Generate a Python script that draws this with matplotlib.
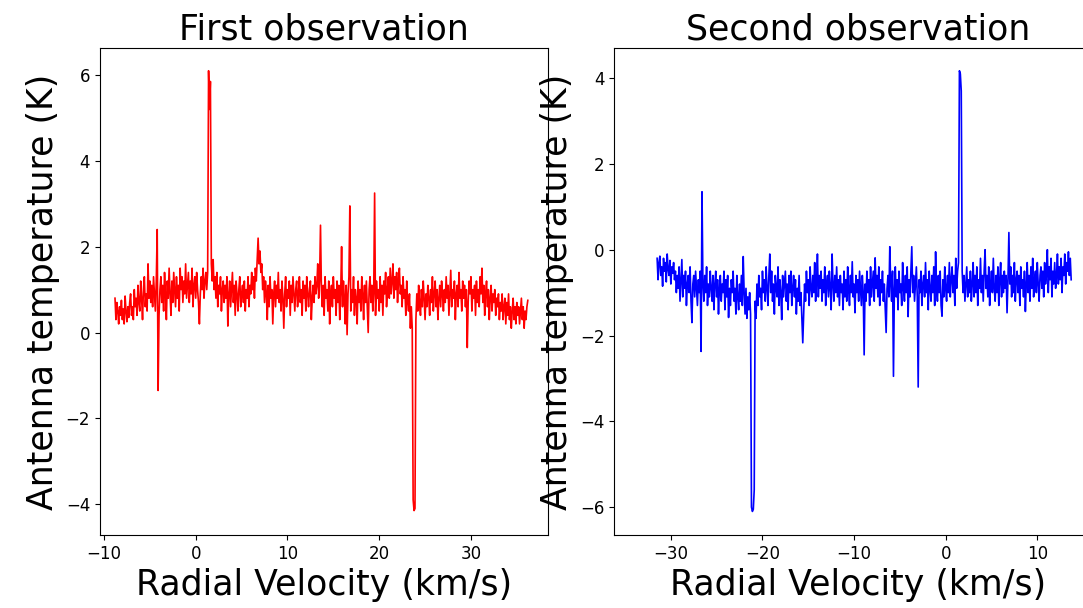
import numpy as np
import matplotlib.pyplot as plt

plt.rcParams['font.family'] = ['DejaVu Sans']

# First observation: velocity range of the channels (km/s) and antenna temperature (K)
v1_start, v1_end = -8.8, 36.2
t1 = [0.8, 0.3, 0.7, 0.5, 0.2, 0.6, 0.4, 0.75, 0.3, 0.55, 0.2, 0.85, 0.5, 0.25, 0.6, 0.35, 0.7, 0.9, 0.4, 0.6,
      0.3, 1.0, 0.6, 0.8, 0.4, 1.1, 0.7, 0.5, 1.2, 0.8, 0.3, 1.0, 1.3, 0.6, 0.9, 0.5, 1.6, 0.8, 1.2, 0.7,
      1.1, 0.6, 1.3, 0.9, 0.5, 1.2, 2.4, -1.35, 0.4, 1.0, 1.3, 0.7, 1.1, 0.5, 1.4, 0.9, 0.3, 1.2, 0.8, 1.5,
      0.9, 0.4, 1.2, 0.7, 1.4, 1.0, 0.6, 1.3, 0.8, 1.1, 0.5, 1.5, 1.0, 1.3, 0.7, 1.2, 0.9, 1.6, 0.8, 1.1,
      1.4, 0.7, 1.2, 0.9, 1.5, 0.6, 1.1, 1.3, 0.8, 1.4, 1.0, 0.7, 0.2, 0.9, 1.3, 1.0, 1.5, 0.8, 1.2, 1.4,
      1.0, 1.4, 6.1, 5.2, 5.85, 1.6, 1.2, 1.7, 1.0, 1.3, 0.8, 1.4, 0.6, 1.1, 0.9, 1.3, 0.5, 1.0, 1.2, 0.7,
      1.1, 0.8, 1.3, 0.15, 0.9, 1.2, 0.6, 1.0, 1.4, 0.7, 1.1, 0.4, 1.2, 0.9, 0.5, 1.0, 1.3, 0.6, 0.9, 1.1,
      0.7, 1.2, 0.5, 1.0, 0.8, 1.3, 0.6, 1.1, 0.9, 1.4, 1.0, 1.3, 0.8, 1.5, 1.2, 1.7, 2.2, 1.6, 1.9, 1.4,
      1.6, 1.0, 1.3, 0.7, 1.2, 0.9, 0.3, 1.1, 0.6, 1.3, 0.8, 1.0, 0.2, 0.9, 1.2, 0.6, 1.1, 0.8, 1.4, 0.7,
      1.0, 0.5, 1.2, 0.8, 0.1, 0.9, 1.3, 0.6, 1.0, 0.8, 1.2, 0.4, 1.1, 0.7, 1.3, 0.9, 0.5, 1.0, 1.2, 0.6,
      0.9, 1.3, 0.7, 1.0, 0.4, 1.2, 0.8, 1.1, 0.5, 1.3, 0.9, 0.6, 1.0, 1.2, 0.3, 0.8, 1.1, 0.7, 1.3, 0.9,
      1.1, 1.6, 0.8, 1.2, 2.5, 1.0, 0.6, 1.1, 0.4, 1.3, 0.8, 1.0, 0.5, 1.2, 0.2, 0.9, 1.1, 0.6, 1.3, 0.8,
      1.0, 0.4, 1.2, 0.7, 1.1, 0.3, 0.9, 2.0, 0.6, 1.2, 0.8, 0.2, 1.1, -0.05, 0.9, 1.3, 2.95, 0.5, 1.0, 0.7,
      1.3, 0.4, 1.0, 0.8, 0.2, 1.2, 0.7, 1.0, 0.5, 1.3, 0.9, 0.3, 1.1, 0.7, 1.2, 0.6, 0.0, 1.0, 1.3, 0.7,
      1.1, 0.5, 0.9, 3.25, 0.4, 1.2, 0.8, 1.0, 0.5, 1.3, 0.7, 1.1, 0.4, 1.2, 0.9, 1.4, 0.6, 1.0, 1.3, 0.8,
      1.5, 0.9, 1.2, 1.6, 0.8, 1.3, 1.0, 1.4, 0.7, 1.2, 1.5, 0.9, 1.1, 0.6, 1.3, 0.8, 1.0, 0.4, 1.2, 0.7,
      0.5, 0.9, 0.1, 0.6, 0.1, -3.9, -4.15, -4.1, 0.3, 0.9, 0.5, 1.1, 0.7, 0.4, 1.0, 0.6, 1.2, 0.8, 0.3, 0.9,
      0.6, 1.1, 0.8, 0.4, 1.0, 0.7, 1.3, 0.5, 0.9, 1.2, 0.6, 1.0, 0.3, 0.8, 1.1, 0.6, 1.2, 0.9, 0.5, 1.0,
      0.7, 1.3, 0.8, 1.1, 0.4, 0.9, 1.45, 0.6, 1.0, 0.8, 1.2, 0.3, 0.9, 1.1, 0.6, 1.4, 0.8, 1.0, 0.5, 1.2,
      0.8, 1.1, 0.6, 1.0, -0.35, 0.7, 1.2, 0.9, 1.3, 0.5, 1.0, 0.8, 1.1, 0.4, 1.2, 0.7, 1.0, 0.6, 1.3, 0.9,
      1.5, 0.7, 1.1, 0.4, 0.9, 1.2, 0.6, 1.0, 0.3, 0.8, 1.1, 0.5, 0.9, 0.7, 1.0, 0.4, 0.8, 0.6, 0.9, 0.3,
      0.7, 0.5, 0.9, 0.3, 0.6, 0.8, 0.2, 0.7, 0.4, 0.9, 0.3, 0.6, 0.1, 0.5, 0.8, 0.3, 0.6, 0.2, 0.7, 0.4,
      0.6, 0.2, 0.5, 0.8, 0.3, 0.6, 0.1, 0.5, 0.3, 0.6, 0.75]

# Second observation
v2_start, v2_end = -31.5, 13.7
t2 = [-0.2, -0.7, -0.3, -0.15, -0.6, -0.4, -0.85, -0.2, -0.5, -0.3, -0.75, -0.1, -0.45, -0.6, -0.25, -0.8, -0.4, -0.55, -0.3, -0.7,
      -0.5, -1.0, -0.6, -0.9, -0.4, -1.2, -0.7, -0.23, -1.1, -0.6, -0.9, -0.5, -1.3, -0.8, -0.6, -1.0, -0.4, -1.2, -1.7, -0.8,
      -0.6, -1.1, -0.5, -0.9, -1.3, -0.7, -1.0, -0.5, -2.37, 1.35, -0.8, -1.2, -0.6, -1.0, -0.4, -1.3, -0.8, -1.1, -0.5, -0.9,
      -1.2, -0.6, -1.4, -0.8, -0.5, -1.1, -0.7, -1.5, -0.9, -0.6, -1.2, -0.8, -1.0, -0.5, -1.4, -0.7, -1.1, -0.6, -1.58, -0.9,
      -1.3, -0.7, -1.0, -0.5, -1.2, -0.9, -1.5, -0.6, -1.1, -1.4, -0.8, -1.2, -0.6, -1.3, -0.16, -1.0, -1.5, -0.9, -1.6, -1.1,
      -1.4, -1.0, -1.5, -6.0, -6.1, -6.05, -5.6, -1.2, -1.6, -0.8, -1.3, -0.6, -1.1, -0.9, -1.4, -0.5, -1.0, -0.7, -1.2, -0.4,
      -0.9, -1.3, -0.6, -0.1, -1.0, -0.5, -1.2, -0.8, -1.5, -0.6, -0.9, -1.1, -0.4, -1.3, -0.7, -1.0, -1.63, -0.6, -1.1, -0.8,
      -0.5, -1.2, -0.8, -1.4, -0.6, -1.0, -0.5, -1.3, -0.9, -0.6, -1.1, -0.7, -1.5, -0.9, -1.2, -0.6, -1.3, -1.0, -1.6, -2.17,
      -1.5, -0.8, -1.2, -0.5, -1.0, -0.7, -1.3, -0.4, -0.9, -1.1, -0.6, -1.0, -0.3, -1.2, -0.8, -0.1, -1.1, -0.6, -0.9, -0.5,
      -1.2, -0.7, -1.0, -0.4, -1.3, -0.8, -0.6, -1.1, -0.5, -0.9, -1.4, -0.1, -0.8, -1.2, -0.6, -1.0, -0.4, -1.1, -0.7, -1.3,
      -0.6, -1.0, -0.8, -1.4, -0.5, -1.1, -0.7, -1.2, -0.4, -0.9, -1.3, -0.6, -1.0, -0.28, -1.1, -0.8, -1.47, -0.6, -1.0, -0.7,
      -1.2, -0.5, -0.9, -1.3, -0.6, -1.0, -2.45, -0.8, -1.2, -0.5, -1.0, -0.7, -1.3, -0.4, -1.1, -0.8, -0.5, -1.2, -0.19, -0.9,
      -0.6, -1.1, -0.4, -1.3, -0.7, -1.0, -0.5, -1.2, -0.8, -1.4, -1.93, -0.9, -0.6, -1.1, 0.07, -0.8, -1.2, -0.5, -2.95, -0.9,
      -0.4, -1.1, -0.7, -1.4, -0.5, -1.0, -0.8, -1.3, -0.3, -0.9, -1.2, -0.6, -1.0, -0.4, -1.56, -0.7, -1.1, -0.5, 0.07, -1.0,
      -0.6, -1.2, -0.8, -0.4, -1.1, -3.2, -0.7, -1.0, -0.5, -1.3, -0.8, -0.6, -1.1, -0.3, -1.0, -0.7, -1.4, -0.5, -0.9, -1.2,
      -0.6, -1.0, -0.4, -1.3, -0.05, -0.9, -1.2, -0.6, -1.0, -0.5, -1.3, -1.55, -0.7, -1.1, -0.4, -0.9, -1.2, -0.6, -1.0, -0.3,
      -1.1, -0.7, -0.4, -1.0, -0.6, -1.3, -0.2, -0.9, -0.5, -0.3, 4.17, 4.1, 3.7, -0.5, -1.0, -0.6, -1.2, -0.8, -0.4, -1.1,
      -0.7, -1.0, -0.5, -1.2, -0.8, -0.3, -1.1, -0.6, -1.0, -0.4, -1.3, -0.7, -0.9, -0.2, -1.0, -0.6, -1.2, -0.5, 0.0, -0.9,
      -0.6, -1.1, -0.4, -1.3, -0.8, -0.5, -1.0, -0.2, -0.9, -1.2, -0.6, -1.0, -0.4, -1.3, -0.7, -0.3, -1.1, -0.6, -1.0, -0.5,
      -0.9, -0.6, -1.47, -0.7, 0.4, -0.8, -0.4, -1.1, -0.6, -1.0, -0.3, -1.2, -0.7, -0.5, -1.0, -0.6, -1.3, -0.4, -0.9, -0.7,
      -1.1, -0.5, -1.44, -0.8, -0.3, -1.0, -0.6, -1.2, -0.4, -0.9, -0.2, -1.1, -0.7, -0.5, -1.0, -0.3, -0.8, -1.2, -0.6, -0.4,
      -0.9, -0.5, -1.1, -0.3, -0.8, -0.6, 0.0, -1.0, -0.4, -0.7, -0.2, -1.1, -0.5, -0.8, -0.3, -0.9, -0.6, -0.1, -0.8, -0.4,
      -0.7, -0.2, -1.0, -0.4, -0.6, -0.1, -0.8, -0.3, -0.5, -0.05, -0.6, -0.2, -0.7]

v1 = np.linspace(v1_start, v1_end, len(t1))
v2 = np.linspace(v2_start, v2_end, len(t2))

fig, axs = plt.subplots(1, 2, figsize=(10.83, 6.08), dpi=100)
axs[0].set_position([0.0923, 0.120, 0.4137, 0.801])
axs[1].set_position([0.567, 0.120, 0.45, 0.801])

axs[0].plot(v1, t1, color='red', linewidth=1.2)
axs[0].set_xlim(-10.44, 38.4)
axs[0].set_ylim(-4.72, 6.63)
axs[0].set_title('First observation', fontsize=25)

axs[1].plot(v2, t2, color='blue', linewidth=1.2)
axs[1].set_xlim(-36.2, 17.0)
axs[1].set_ylim(-6.65, 4.70)
axs[1].set_title('Second observation', fontsize=25)

for ax in axs:
    ax.set_xlabel('Radial Velocity (km/s)', fontsize=25)
    ax.set_ylabel('Antenna temperature (K)', fontsize=25)
    ax.tick_params(labelsize=12)

plt.savefig('out.png', dpi=100)
